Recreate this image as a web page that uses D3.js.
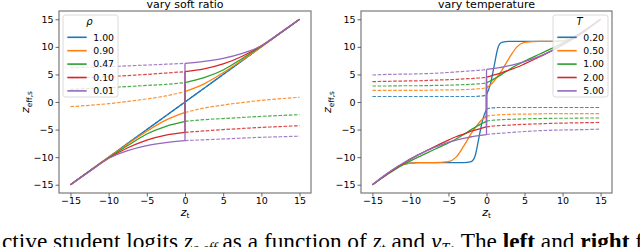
<!DOCTYPE html>
<html><head><meta charset="utf-8">
<script src="https://cdn.jsdelivr.net/npm/d3@7"></script>
<style>
html,body{margin:0;padding:0;background:#fff;overflow:hidden}
svg{display:block}
</style></head>
<body>
<script>
// ---------- data ----------
const zLeft = [-15,-12.5,-10,-7.5,-5,-2.5,0,2.5,5,7.5,10,12.5,15];
const rhoLabels = ["1.00","0.90","0.47","0.10","0.01"];
// upper branch (teacher positive) and lower branch (teacher negative)
const rhoUpper100 = [-15,-12.5,-10,-7.5,-5,-2.5,0,2.5,5,7.5,10,12.5,15];
const rhoLower100 = [-15,-12.5,-10,-7.5,-5,-2.5,0,2.5,5,7.5,10,12.5,15];
const rhoUpper090 = [-0.85,-0.6,-0.3,0.1,0.55,1.1,1.9,3.3,5.3,7.6,10.0,12.5,15];
const rhoLower090 = [-15,-12.5,-10.0,-7.6,-5.3,-3.3,-1.9,-1.1,-0.55,-0.1,0.3,0.6,0.85];
const rhoUpper047 = [2.3,2.45,2.6,2.8,3.0,3.2,3.5,4.4,5.8,7.9,10.1,12.5,15];
const rhoLower047 = [-15,-12.5,-10.1,-7.9,-5.8,-4.4,-3.5,-3.2,-3.0,-2.8,-2.6,-2.45,-2.3];
const rhoUpper010 = [4.3,4.45,4.6,4.8,5.0,5.25,5.5,6.0,6.9,8.3,10.2,12.55,15];
const rhoLower010 = [-15,-12.55,-10.2,-8.3,-6.9,-6.0,-5.5,-5.25,-5.0,-4.8,-4.6,-4.45,-4.3];
const rhoUpper001 = [6.2,6.3,6.4,6.55,6.7,6.85,7.0,7.35,7.9,8.8,10.2,12.6,15];
const rhoLower001 = [-15,-12.6,-10.2,-8.8,-7.9,-7.35,-7.0,-6.85,-6.7,-6.55,-6.4,-6.3,-6.2];

const zRight = [-15,-13,-11,-9,-7,-5,-4,-3,-2,-1.5,-1,-0.5,0,0.5,1,1.5,2,3,4,5,7,9,11,13,15];
const tempLabels = ["0.20","0.50","1.00","2.00","5.00"];
const tUpper020 = [1.0,1.0,1.0,1.0,1.0,1.0,1.0,1.0,1.0,1.0,1.05,1.1,1.3,3.2,6.5,9.8,10.8,11.0,11.0,11.0,11.0,11.0,11.3,13.0,15];
const tLower020 = [-15,-13.0,-11.3,-11.0,-11.0,-11.0,-11.0,-11.0,-10.8,-9.8,-6.5,-3.2,-1.3,-1.1,-1.05,-1.0,-1.0,-1.0,-1.0,-1.0,-1.0,-1.0,-1.0,-1.0,-1.0];
const tUpper050 = [2.1,2.1,2.1,2.1,2.15,2.2,2.2,2.25,2.3,2.35,2.4,2.45,2.6,3.1,3.8,4.7,5.7,8.0,10.0,10.8,11.0,11.0,11.3,13.0,15];
const tLower050 = [-15,-13.0,-11.3,-11.0,-11.0,-10.8,-10.0,-8.0,-5.7,-4.7,-3.8,-3.1,-2.6,-2.45,-2.4,-2.35,-2.3,-2.25,-2.2,-2.2,-2.15,-2.1,-2.1,-2.1,-2.1];
const tUpper100 = [2.9,2.9,2.95,2.95,3.0,3.05,3.1,3.15,3.2,3.25,3.3,3.35,3.5,3.8,4.2,4.6,5.0,5.9,6.7,7.4,8.7,10.0,11.4,13.1,15];
const tLower100 = [-15,-13.1,-11.4,-10.0,-8.7,-7.4,-6.7,-5.9,-5.0,-4.6,-4.2,-3.8,-3.5,-3.35,-3.3,-3.25,-3.2,-3.15,-3.1,-3.05,-3.0,-2.95,-2.95,-2.9,-2.9];
const tUpper200 = [3.7,3.75,3.8,3.85,3.95,4.05,4.1,4.2,4.25,4.3,4.35,4.4,4.5,4.7,4.9,5.1,5.3,5.8,6.3,6.9,8.2,9.6,11.2,13.0,15];
const tLower200 = [-15,-13.0,-11.2,-9.6,-8.2,-6.9,-6.3,-5.8,-5.3,-5.1,-4.9,-4.7,-4.5,-4.4,-4.35,-4.3,-4.25,-4.2,-4.1,-4.05,-3.95,-3.85,-3.8,-3.75,-3.7];
const tUpper500 = [4.9,5.0,5.05,5.1,5.2,5.35,5.45,5.55,5.65,5.7,5.75,5.8,5.9,6.0,6.1,6.2,6.3,6.6,6.9,7.3,8.3,9.6,11.1,12.9,15];
const tLower500 = [-15,-12.9,-11.1,-9.6,-8.3,-7.3,-6.9,-6.6,-6.3,-6.2,-6.1,-6.0,-5.9,-5.8,-5.75,-5.7,-5.65,-5.55,-5.45,-5.35,-5.2,-5.1,-5.05,-5.0,-4.9];

const xTicks = [-15,-10,-5,0,5,10,15];
const yTicks = [-15,-10,-5,0,5,10,15];
const colors = ["#1f77b4","#ff7f0e","#2ca02c","#d62728","#9467bd"];

// ---------- drawing ----------
const W = 640, H = 247;
const svg = d3.select("body").append("svg").attr("width", W).attr("height", H);
const fmt = d => d < 0 ? "\u2212" + Math.abs(d) : String(d);

function panel(opts) {
  const x = d3.scaleLinear().domain([-16.5, 16.5]).range([opts.x0, opts.x1]);
  const y = d3.scaleLinear().domain([-16.5, 16.5]).range([193, 11]);
  const g = svg.append("g");
  const clipId = "clip" + opts.id;
  svg.append("clipPath").attr("id", clipId).append("rect")
    .attr("x", opts.x0).attr("y", 11).attr("width", opts.x1 - opts.x0).attr("height", 182);

  const line = d3.line().x(d => x(d[0])).y(d => y(d[1])).curve(d3.curveMonotoneX);
  const plot = g.append("g").attr("clip-path", `url(#${clipId})`);

  opts.series.forEach((s, i) => {
    const up = opts.z.map((z, k) => [z, s.upper[k]]);
    const lo = opts.z.map((z, k) => [z, s.lower[k]]);
    const l0 = lo.find(d => d[0] === 0)[1], u0 = up.find(d => d[0] === 0)[1];
    [up.filter(d => d[0] <= 0), lo.filter(d => d[0] >= 0)].forEach(pts => {
      plot.append("path").attr("d", line(pts))
        .attr("fill", "none").attr("stroke", colors[i]).attr("stroke-width", 1.2)
        .attr("stroke-dasharray", "3.6,1.6").attr("opacity", 0.85);
    });
    [lo.filter(d => d[0] <= 0), up.filter(d => d[0] >= 0)].forEach(pts => {
      plot.append("path").attr("d", line(pts))
        .attr("fill", "none").attr("stroke", colors[i]).attr("stroke-width", 1.3);
    });
    plot.append("path").attr("d", d3.line()([[x(0), y(l0)], [x(0), y(u0)]]))
      .attr("fill", "none").attr("stroke", colors[i]).attr("stroke-width", 1.3);
  });

  // frame
  g.append("rect").attr("x", opts.x0).attr("y", 11).attr("width", opts.x1 - opts.x0).attr("height", 182)
    .attr("fill", "none").attr("stroke", "#7a7a7a").attr("stroke-width", 1.2);

  const ax = g.append("g").attr("transform", "translate(0,193)")
    .call(d3.axisBottom(x).tickValues(xTicks).tickSize(3.5).tickPadding(1).tickFormat(fmt));
  const ay = g.append("g").attr("transform", `translate(${opts.x0},0)`)
    .call(d3.axisLeft(y).tickValues(yTicks).tickSize(3.5).tickPadding(2).tickFormat(fmt));
  [ax, ay].forEach(a => {
    a.select(".domain").remove();
    a.selectAll("line").attr("stroke", "#555").attr("stroke-width", 0.9);
    a.selectAll("text").attr("font-family", "DejaVu Sans").attr("font-size", 9.5).attr("fill", "#000");
  });

  // title
  g.append("text").attr("x", (opts.x0 + opts.x1) / 2).attr("y", 7.5).attr("text-anchor", "middle")
    .attr("font-family", "DejaVu Sans").attr("font-size", 11).text(opts.title);

  // x label
  const xl = g.append("text").attr("x", x(0)).attr("y", 215.5).attr("text-anchor", "middle")
    .attr("font-family", "DejaVu Sans").attr("font-size", 11);
  xl.append("tspan").attr("font-style", "italic").text("z");
  xl.append("tspan").attr("font-size", 7.5).attr("dy", 2).text("t");

  // y label
  const yl = g.append("text").attr("transform", `translate(${opts.x0 - 30},${y(0)}) rotate(-90)`)
    .attr("text-anchor", "middle").attr("font-family", "DejaVu Sans").attr("font-size", 11);
  yl.append("tspan").attr("font-style", "italic").text("z");
  yl.append("tspan").attr("font-size", 7.5).attr("dy", 2.5).text("eff,s");

  // legend
  const lg = g.append("g");
  lg.append("rect").attr("x", opts.lx).attr("y", 15).attr("width", 55).attr("height", 82)
    .attr("rx", 2.5).attr("fill", "#fff").attr("fill-opacity", 0.8).attr("stroke", "#d0d0d0").attr("stroke-width", 0.8);
  lg.append("text").attr("x", opts.lx + 26.5).attr("y", 25).attr("text-anchor", "middle")
    .attr("font-family", "DejaVu Sans").attr("font-style", "italic").attr("font-size", 10).text(opts.legendTitle);
  opts.labels.forEach((lab, i) => {
    const yy = 37.3 + i * 13.4;
    lg.append("line").attr("x1", opts.lx + 4.3).attr("x2", opts.lx + 23.7).attr("y1", yy).attr("y2", yy)
      .attr("stroke", colors[i]).attr("stroke-width", 1.6);
    lg.append("text").attr("x", opts.lx + 30.3).attr("y", yy + 3.3)
      .attr("font-family", "DejaVu Sans").attr("font-size", 9.3).text(lab);
  });
}

panel({
  id: "L", x0: 59, x1: 311, z: zLeft, title: "vary soft ratio", legendTitle: "\u03c1", lx: 63,
  labels: rhoLabels,
  series: [
    {upper: rhoUpper100, lower: rhoLower100},
    {upper: rhoUpper090, lower: rhoLower090},
    {upper: rhoUpper047, lower: rhoLower047},
    {upper: rhoUpper010, lower: rhoLower010},
    {upper: rhoUpper001, lower: rhoLower001}
  ]
});
panel({
  id: "R", x0: 361, x1: 612, z: zRight, title: "vary temperature", legendTitle: "T", lx: 553,
  labels: tempLabels,
  series: [
    {upper: tUpper020, lower: tLower020},
    {upper: tUpper050, lower: tLower050},
    {upper: tUpper100, lower: tLower100},
    {upper: tUpper200, lower: tLower200},
    {upper: tUpper500, lower: tLower500}
  ]
});

// caption (cut off at the bottom of the figure)
const cap = svg.append("text").attr("x", 2).attr("y", 249)
  .attr("font-family", "Liberation Serif").attr("font-size", 23.3).attr("fill", "#000");
cap.append("tspan").text("ctive student logits ");
cap.append("tspan").attr("font-style", "italic").text("z");
cap.append("tspan").attr("font-size", 14.5).attr("dy", 4).attr("font-style", "italic").text("s,eff");
cap.append("tspan").attr("dy", -4).text(" as a function of ");
cap.append("tspan").attr("font-style", "italic").text("z");
cap.append("tspan").attr("font-size", 14.5).attr("dy", 4).text("t");
cap.append("tspan").attr("dy", -4).text(" and ");
cap.append("tspan").attr("font-style", "italic").text("y");
cap.append("tspan").attr("font-size", 14.5).attr("dy", 4).attr("font-style", "italic").text("T");
cap.append("tspan").attr("dy", -4).text(". The ");
cap.append("tspan").attr("font-weight", "bold").text("left");
cap.append("tspan").text(" and ");
cap.append("tspan").attr("font-weight", "bold").text("right");
cap.append("tspan").text(" fi");
</script>
</body></html>
